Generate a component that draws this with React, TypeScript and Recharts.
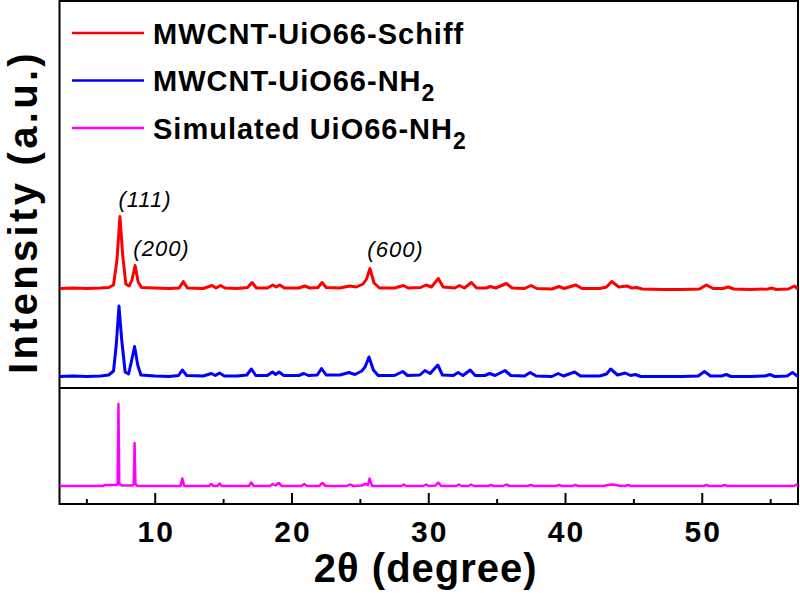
import React from 'react';
import {
  LineChart,
  Line,
  XAxis,
  YAxis,
  ReferenceArea,
  ReferenceLine,
  ReferenceDot,
  Legend,
} from 'recharts';

const FONT = '"Liberation Sans", Arial, Helvetica, sans-serif';

// ---- axes ----
const X_TICKS = [5, 10, 15, 20, 25, 30, 35, 40, 45, 50, 55];
const MAJOR_TICKS = [10, 20, 30, 40, 50];
const X_DOMAIN: [number, number] = [3, 57];
const Y_DOMAIN: [number, number] = [0, 503];
const X_TITLE = '2θ (degree)';
const Y_TITLE = 'Intensity (a.u.)';

// ---- series ----
const SERIES_NAMES = ['MWCNT-UiO66-Schiff', 'MWCNT-UiO66-NH', 'Simulated UiO66-NH'];
const SERIES_SUBSCRIPTS = ['', '2', '2'];
const SERIES_COLORS = ['#FF0000', '#0000FF', '#FF00FF'];
const SERIES_OFFSETS = [216, 128, 18];
const PANEL_DIVIDER = 116;

// [2θ, relative intensity (a.u.)]
const RED_POINTS: [number, number][] = [
  [3.0, -0.5], [4.0, 0], [5.0, -0.5], [6.0, 0], [6.6, 0.5], [6.95, 3], [7.2, 28], [7.42, 71.5],
  [7.62, 33], [7.85, 4], [8.1, 2], [8.3, 8], [8.53, 22.5], [8.75, 6], [9.0, 0.5], [10.0, 0],
  [11.0, -0.5], [11.75, 0], [12.05, 6.5], [12.35, 0], [13.5, -0.5], [14.15, 2.5], [14.45, 0],
  [14.77, 2.5], [15.1, 0], [16.0, -0.5], [16.75, 0.5], [17.08, 5.5], [17.4, 0], [18.2, 0],
  [18.6, 3], [18.85, 1], [19.1, 3], [19.45, 0], [20.5, 0], [20.93, 2], [21.3, 0], [21.9, 0.5],
  [22.2, 5.5], [22.5, 0.5], [23.5, 0], [24.22, 2], [24.7, 1], [25.2, 4], [25.45, 9], [25.7, 19.5],
  [26.0, 5], [26.4, 0], [27.5, 0], [28.15, 2.5], [28.5, 0], [29.4, 0.5], [29.8, 3], [30.2, 1],
  [30.7, 9.5], [31.05, 1], [31.9, 0], [32.25, 2.5], [32.6, 0], [33.12, 5.5], [33.5, 0], [34.2, 0],
  [34.5, 1.5], [34.9, 0], [35.67, 4.5], [36.1, 0], [37.0, -0.5], [37.48, 2.5], [37.9, -0.5],
  [39.0, -1], [39.52, 1.5], [39.9, -0.5], [40.76, 3], [41.2, -0.5], [42.5, -0.5], [43.0, 1],
  [43.38, 6.5], [43.9, 1], [44.5, 2], [44.85, 0], [45.2, 0.5], [45.6, -1], [47.0, -1.5],
  [48.5, -1.5], [49.8, -1], [50.3, 3], [50.8, -0.5], [51.5, -0.5], [51.9, 1], [52.3, -1],
  [53.5, -1.5], [54.8, -1], [55.07, 0], [55.4, -1.5], [56.3, -1], [56.75, 2], [57.0, -1],
];

const BLUE_POINTS: [number, number][] = [
  [3.0, -0.5], [4.0, 0], [5.0, -0.5], [6.0, 0], [6.6, 1], [6.95, 5], [7.15, 31], [7.35, 70],
  [7.55, 36], [7.8, 4], [8.05, 2], [8.25, 14], [8.49, 29.5], [8.72, 11], [8.95, 1], [10.0, 0],
  [11.0, -0.5], [11.7, 0.5], [11.98, 6], [12.3, 0.5], [13.5, 0], [14.1, 2.5], [14.4, 0.5],
  [14.7, 3], [15.05, 0], [16.0, 0], [16.7, 1], [17.03, 7], [17.35, 0.5], [18.2, 0.5], [18.57, 4],
  [18.8, 1.5], [19.05, 4], [19.4, 0.5], [20.5, 0.5], [20.87, 2.5], [21.2, 0.5], [21.85, 1],
  [22.16, 7.5], [22.5, 1], [23.5, 1], [24.17, 3.5], [24.6, 1.5], [25.1, 5], [25.34, 9],
  [25.63, 19], [25.95, 6], [26.3, 0.5], [27.5, 0.5], [28.1, 4.5], [28.45, 0.5], [29.35, 1],
  [29.72, 5.5], [30.1, 2.5], [30.66, 11], [31.0, 1], [31.8, 0.5], [32.15, 3.5], [32.5, 0.5],
  [33.03, 6], [33.4, 0.5], [34.1, 0.5], [34.46, 2.5], [34.85, 0.5], [35.58, 5.5], [36.0, 0.5],
  [37.0, 0], [37.42, 3.5], [37.85, 0], [39.0, -0.5], [39.47, 2.5], [39.85, 0], [40.66, 4],
  [41.1, 0], [42.5, 0], [43.0, 2], [43.3, 7], [43.8, 1], [44.37, 3], [44.75, 0.5], [45.11, 1.5],
  [45.5, -0.5], [47.0, -0.5], [48.5, -0.5], [49.7, 0], [50.16, 4.5], [50.6, 0], [51.4, 0],
  [51.76, 1.5], [52.1, -0.5], [53.5, -0.5], [54.6, 0], [54.95, 1.5], [55.3, -0.5], [56.2, 0],
  [56.6, 3.5], [57.0, -0.5],
];

const MAGENTA_POINTS: [number, number][] = [
  [3.0, 0], [6.2, 0], [6.3, 1], [7.15, 1], [7.25, 2], [7.31, 82], [7.37, 2], [7.6, 0.5],
  [8.35, 0.5], [8.43, 2], [8.49, 43], [8.55, 2], [8.7, 0], [11.85, 0], [11.98, 7.5], [12.12, 0],
  [13.95, 0], [14.1, 2], [14.25, 0], [14.55, 0], [14.7, 2.5], [14.85, 0], [16.85, 0], [17.02, 3.5],
  [17.2, 0], [18.4, 0], [18.58, 2], [18.8, 0.5], [19.03, 3], [19.25, 0], [20.7, 0], [20.89, 2],
  [21.1, 0], [22.0, 0], [22.22, 3], [22.45, 0], [24.0, 0], [24.22, 1.5], [24.5, 0], [25.1, 0.5],
  [25.34, 2], [25.55, 1], [25.68, 7.5], [25.85, 0], [28.0, 0], [28.16, 1.5], [28.35, 0],
  [29.6, 0], [29.81, 1.5], [30.0, 0], [30.5, 0.5], [30.69, 3.5], [30.9, 0], [32.0, 0], [32.2, 1.5],
  [32.4, 0], [32.9, 0], [33.09, 1.5], [33.3, 0], [34.35, 0], [34.54, 1], [34.75, 0], [35.45, 0],
  [35.66, 1.5], [35.9, 0], [37.25, 0], [37.46, 1], [37.7, 0], [39.3, 0], [39.51, 1], [39.75, 0],
  [40.5, 0], [40.72, 1], [40.95, 0], [42.8, 0], [43.1, 1], [43.38, 1.5], [43.7, 1], [44.0, 0],
  [44.35, 0], [44.56, 1], [44.8, 0], [50.1, 0], [50.3, 1], [50.5, 0], [51.4, 0], [51.62, 1],
  [51.85, 0], [56.7, 0], [56.9, 1.5], [57.0, 0.5],
];

// ---- peak annotations ----
const PEAK_LABELS = ['(111)', '(200)', '(600)'];
const PEAK_LABEL_X = [9.25, 10.46, 27.57];
const PEAK_LABEL_Y = [297, 248, 247];

const SERIES_POINTS = [RED_POINTS, BLUE_POINTS, MAGENTA_POINTS];

const toRows = (pts: [number, number][], offset: number) =>
  pts.map(([x, v]) => ({ x, y: v + offset }));

const renderTick = (props: any) => {
  const { x, y, payload } = props;
  const major = MAJOR_TICKS.includes(payload.value);
  return (
    <g>
      <line x1={x} x2={x} y1={y} y2={y - (major ? 11 : 5)} stroke="#000" strokeWidth={2} />
      {major && (
        <text
          x={x + 1}
          y={y + 38}
          textAnchor="middle"
          fontFamily={FONT}
          fontWeight="bold"
          fontSize={30}
          letterSpacing={2}
          fill="#000"
        >
          {payload.value}
        </text>
      )}
    </g>
  );
};

const renderAxisTitles = (props: any) => {
  const vb = props.viewBox || { x: 59.5, y: 504, width: 738.5 };
  const plotTop = vb.y - 503;
  return (
    <g>
      <text
        x={vb.x + vb.width / 2 - 3}
        y={vb.y + 78}
        textAnchor="middle"
        fontFamily={FONT}
        fontWeight="bold"
        fontSize={40}
        letterSpacing={1}
        fill="#000"
      >
        {X_TITLE}
      </text>
      <text
        transform={`translate(${vb.x - 22.5}, ${plotTop + 211}) rotate(-90)`}
        textAnchor="middle"
        fontFamily={FONT}
        fontWeight="bold"
        fontSize={40}
        letterSpacing={3.3}
        fill="#000"
      >
        {Y_TITLE}
      </text>
    </g>
  );
};

const makePeakLabel = (text: string) => (props: any) => {
  const vb = props.viewBox;
  return (
    <text
      x={vb.x + vb.width / 2}
      y={vb.y + vb.height / 2}
      textAnchor="middle"
      fontFamily={FONT}
      fontStyle="italic"
      fontSize={22}
      letterSpacing={1}
      fill="#000"
    >
      {text}
    </text>
  );
};

const renderLegend = () => (
  <svg width={500} height={160} style={{ display: 'block' }}>
    {SERIES_NAMES.map((name, i) => {
      const cy = 33 + i * 47.5;
      return (
        <g key={name}>
          <line x1={72} x2={144} y1={cy} y2={cy} stroke={SERIES_COLORS[i]} strokeWidth={2.5} />
          <text
            x={153}
            y={cy + 10.5}
            fontFamily={FONT}
            fontWeight="bold"
            fontSize={29}
            letterSpacing={1}
            fill="#000"
          >
            {name}
            {SERIES_SUBSCRIPTS[i] && (
              <tspan fontSize={23} dy={10}>
                {SERIES_SUBSCRIPTS[i]}
              </tspan>
            )}
          </text>
        </g>
      );
    })}
  </svg>
);

export default function App() {
  return (
    <div style={{ position: 'absolute', left: 0, top: 0, width: 800, height: 594, background: '#fff' }}>
      <LineChart width={800} height={594} margin={{ top: 1, right: 2, bottom: 60, left: 59.5 }}>
        <XAxis
          type="number"
          dataKey="x"
          domain={X_DOMAIN}
          ticks={X_TICKS}
          interval={0}
          allowDataOverflow
          axisLine={false}
          tickLine={false}
          tickSize={0}
          tickMargin={0}
          height={30}
          tick={renderTick}
          label={renderAxisTitles}
        />
        <YAxis type="number" domain={Y_DOMAIN} allowDataOverflow hide />
        <ReferenceArea
          x1={X_DOMAIN[0]}
          x2={X_DOMAIN[1]}
          y1={Y_DOMAIN[0]}
          y2={Y_DOMAIN[1]}
          fill="none"
          fillOpacity={0}
          stroke="#000"
          strokeWidth={2}
          ifOverflow="visible"
        />
        <ReferenceLine y={PANEL_DIVIDER} stroke="#000" strokeWidth={2} ifOverflow="visible" />
        {SERIES_POINTS.map((pts, i) => (
          <Line
            key={SERIES_NAMES[i]}
            data={toRows(pts, SERIES_OFFSETS[i])}
            dataKey="y"
            type="linear"
            stroke={SERIES_COLORS[i]}
            strokeWidth={i === 2 ? 2.5 : 3}
            strokeLinejoin="round"
            dot={false}
            activeDot={false}
            isAnimationActive={false}
          />
        ))}
        {PEAK_LABELS.map((t, i) => (
          <ReferenceDot
            key={t}
            x={PEAK_LABEL_X[i]}
            y={PEAK_LABEL_Y[i]}
            r={1}
            fill="none"
            stroke="none"
            ifOverflow="visible"
            label={makePeakLabel(t)}
          />
        ))}
        <Legend
          layout="vertical"
          align="center"
          verticalAlign="middle"
          wrapperStyle={{ position: 'absolute', left: 0, top: 0, width: 500, height: 160 }}
          content={renderLegend}
        />
      </LineChart>
    </div>
  );
}
